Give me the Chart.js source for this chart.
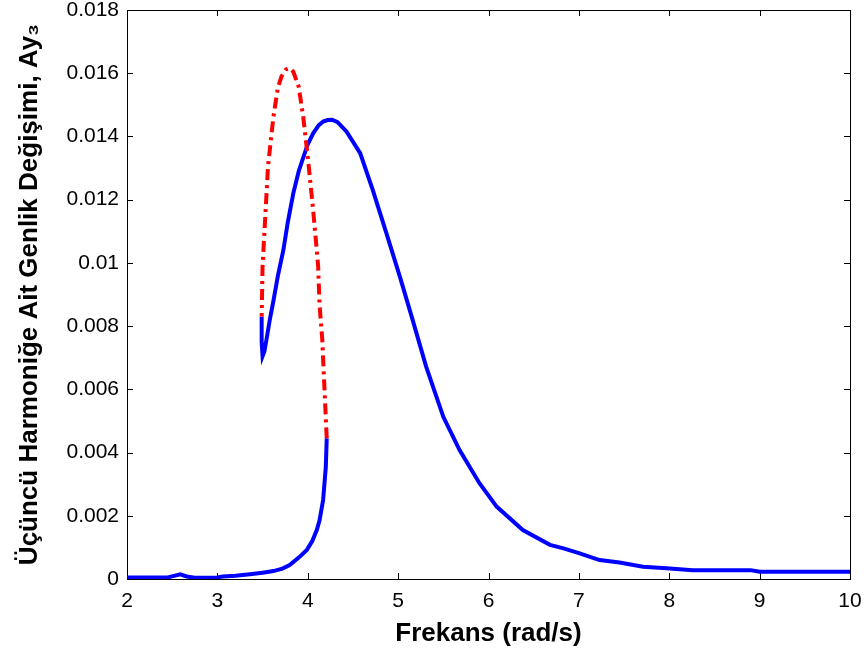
<!DOCTYPE html>
<html>
<head>
<meta charset="utf-8">
<script src="https://cdn.jsdelivr.net/npm/chart.js"></script>
<style>
  html, body { margin: 0; padding: 0; background: #fff; }
  #wrap { width: 864px; height: 651px; }
</style>
</head>
<body>
<div id="wrap"><canvas id="freqChart"></canvas></div>
<script>
// lower blue branch (stable, rising towards the jump)
const lowX = [2.0, 2.2, 2.45, 2.52, 2.59, 2.66, 2.75, 3.0, 3.06, 3.2, 3.36, 3.5, 3.62, 3.72, 3.8, 3.91, 3.99, 4.05, 4.1, 4.13, 4.17, 4.2, 4.21];
const lowY = [0.00005, 0.00005, 0.00005, 0.0001, 0.00015, 0.00008, 0.00004, 0.00005, 0.00008, 0.0001, 0.00015, 0.0002, 0.00025, 0.00033, 0.00044, 0.0007, 0.00092, 0.0012, 0.00155, 0.00185, 0.0025, 0.00355, 0.00445];

// red dash-dot branch (unstable)
const redX = [4.21, 4.19, 4.16, 4.13, 4.115, 4.06, 4.0, 3.95, 3.9, 3.84, 3.8, 3.76, 3.71, 3.67, 3.62, 3.56, 3.53, 3.5, 3.49];
const redY = [0.00445, 0.0057, 0.0076, 0.0087, 0.0099, 0.01167, 0.01336, 0.01462, 0.01557, 0.01605, 0.01616, 0.01612, 0.0159, 0.01555, 0.01462, 0.01304, 0.01146, 0.0099, 0.0083];

// upper blue branch
const upX = [3.49, 3.49, 3.5, 3.52, 3.545, 3.58, 3.62, 3.67, 3.73, 3.78, 3.84, 3.9, 3.95, 4.0, 4.06, 4.12, 4.17, 4.22, 4.27, 4.33, 4.43, 4.58, 4.72, 4.87, 5.02, 5.15, 5.31, 5.5, 5.68, 5.9, 6.09, 6.38, 6.68, 6.83, 7.0, 7.23, 7.45, 7.71, 7.97, 8.26, 8.9, 9.0, 10.0];
const upY = [0.0083, 0.0075, 0.00705, 0.0072, 0.0076, 0.0082, 0.0088, 0.0096, 0.0104, 0.0113, 0.0122, 0.0129, 0.01333, 0.01375, 0.0141, 0.01435, 0.01447, 0.01452, 0.01453, 0.01445, 0.01415, 0.01347, 0.0123, 0.01094, 0.00956, 0.0083, 0.00672, 0.00513, 0.00408, 0.00303, 0.00229, 0.00155, 0.00108, 0.00097, 0.00082, 0.0006, 0.00052, 0.00039, 0.00034, 0.00028, 0.00028, 0.00023, 0.00023];

const xTitle = 'Frekans (rad/s)';
const yTitle = 'Üçüncü Harmoniğe Ait Genlik Değişimi, Ay₃';

const FONT = "'Liberation Sans', Arial, sans-serif";

function toPoints(xs, ys) {
  return xs.map((x, i) => ({ x: x, y: ys[i] }));
}

// matlab style box with inward ticks on all four sides
const boxPlugin = {
  id: 'boxPlugin',
  beforeDatasetsDraw(chart) {
    const { ctx, chartArea: a, scales } = chart;
    const len = 6;
    ctx.save();
    ctx.strokeStyle = '#000';
    ctx.lineWidth = 1;
    ctx.beginPath();
    scales.x.ticks.forEach((t) => {
      const px = Math.round(scales.x.getPixelForValue(t.value)) + 0.5;
      ctx.moveTo(px, a.bottom);
      ctx.lineTo(px, a.bottom - len);
      ctx.moveTo(px, a.top);
      ctx.lineTo(px, a.top + len);
    });
    scales.y.ticks.forEach((t) => {
      const py = Math.round(scales.y.getPixelForValue(t.value)) + 0.5;
      ctx.moveTo(a.left, py);
      ctx.lineTo(a.left + len, py);
      ctx.moveTo(a.right, py);
      ctx.lineTo(a.right - len, py);
    });
    ctx.stroke();
    ctx.strokeRect(Math.round(a.left) + 0.5, Math.round(a.top) + 0.5, Math.round(a.width), Math.round(a.height));
    ctx.restore();
  },
};

new Chart(document.getElementById('freqChart'), {
  type: 'scatter',
  data: {
    datasets: [
      {
        data: toPoints(lowX, lowY),
        showLine: true,
        borderColor: '#0000ff',
        borderWidth: 4,
        pointRadius: 0,
        tension: 0,
      },
      {
        data: toPoints(redX, redY),
        showLine: true,
        borderColor: '#ff0000',
        borderWidth: 4,
        borderDash: [11, 5, 3, 5],
        pointRadius: 0,
        tension: 0,
      },
      {
        data: toPoints(upX, upY),
        showLine: true,
        borderColor: '#0000ff',
        borderWidth: 4,
        pointRadius: 0,
        tension: 0,
      },
    ],
  },
  options: {
    responsive: true,
    maintainAspectRatio: false,
    animation: false,
    layout: { padding: { left: 12, right: 14, top: 10, bottom: 2 } },
    plugins: {
      legend: { display: false },
      tooltip: { enabled: false },
    },
    scales: {
      x: {
        type: 'linear',
        min: 2,
        max: 10,
        ticks: {
          stepSize: 1,
          color: '#000',
          padding: 2,
          maxRotation: 0,
          font: { family: FONT, size: 21 },
        },
        grid: { display: false },
        border: { display: true, color: '#000', width: 1 },
        title: {
          display: true,
          text: xTitle,
          color: '#000',
          padding: { top: 0, bottom: 0 },
          font: { family: FONT, size: 26, weight: 'bold' },
        },
        afterFit(scale) {
          scale.height = 70;
          scale.paddingLeft = 0;
          scale.paddingRight = 0;
        },
      },
      y: {
        type: 'linear',
        min: 0,
        max: 0.018,
        ticks: {
          stepSize: 0.002,
          color: '#000',
          padding: 0,
          font: { family: FONT, size: 21 },
          callback: (v) => String(+v.toFixed(3)),
        },
        grid: { display: false },
        border: { display: true, color: '#000', width: 1 },
        title: {
          display: true,
          text: yTitle,
          color: '#000',
          padding: { top: 2, bottom: 0 },
          font: { family: FONT, size: 26, weight: 'bold' },
        },
        afterFit(scale) {
          scale.width = 115;
          scale.paddingTop = 0;
          scale.paddingBottom = 0;
        },
      },
    },
  },
  plugins: [boxPlugin],
});
</script>
</body>
</html>
